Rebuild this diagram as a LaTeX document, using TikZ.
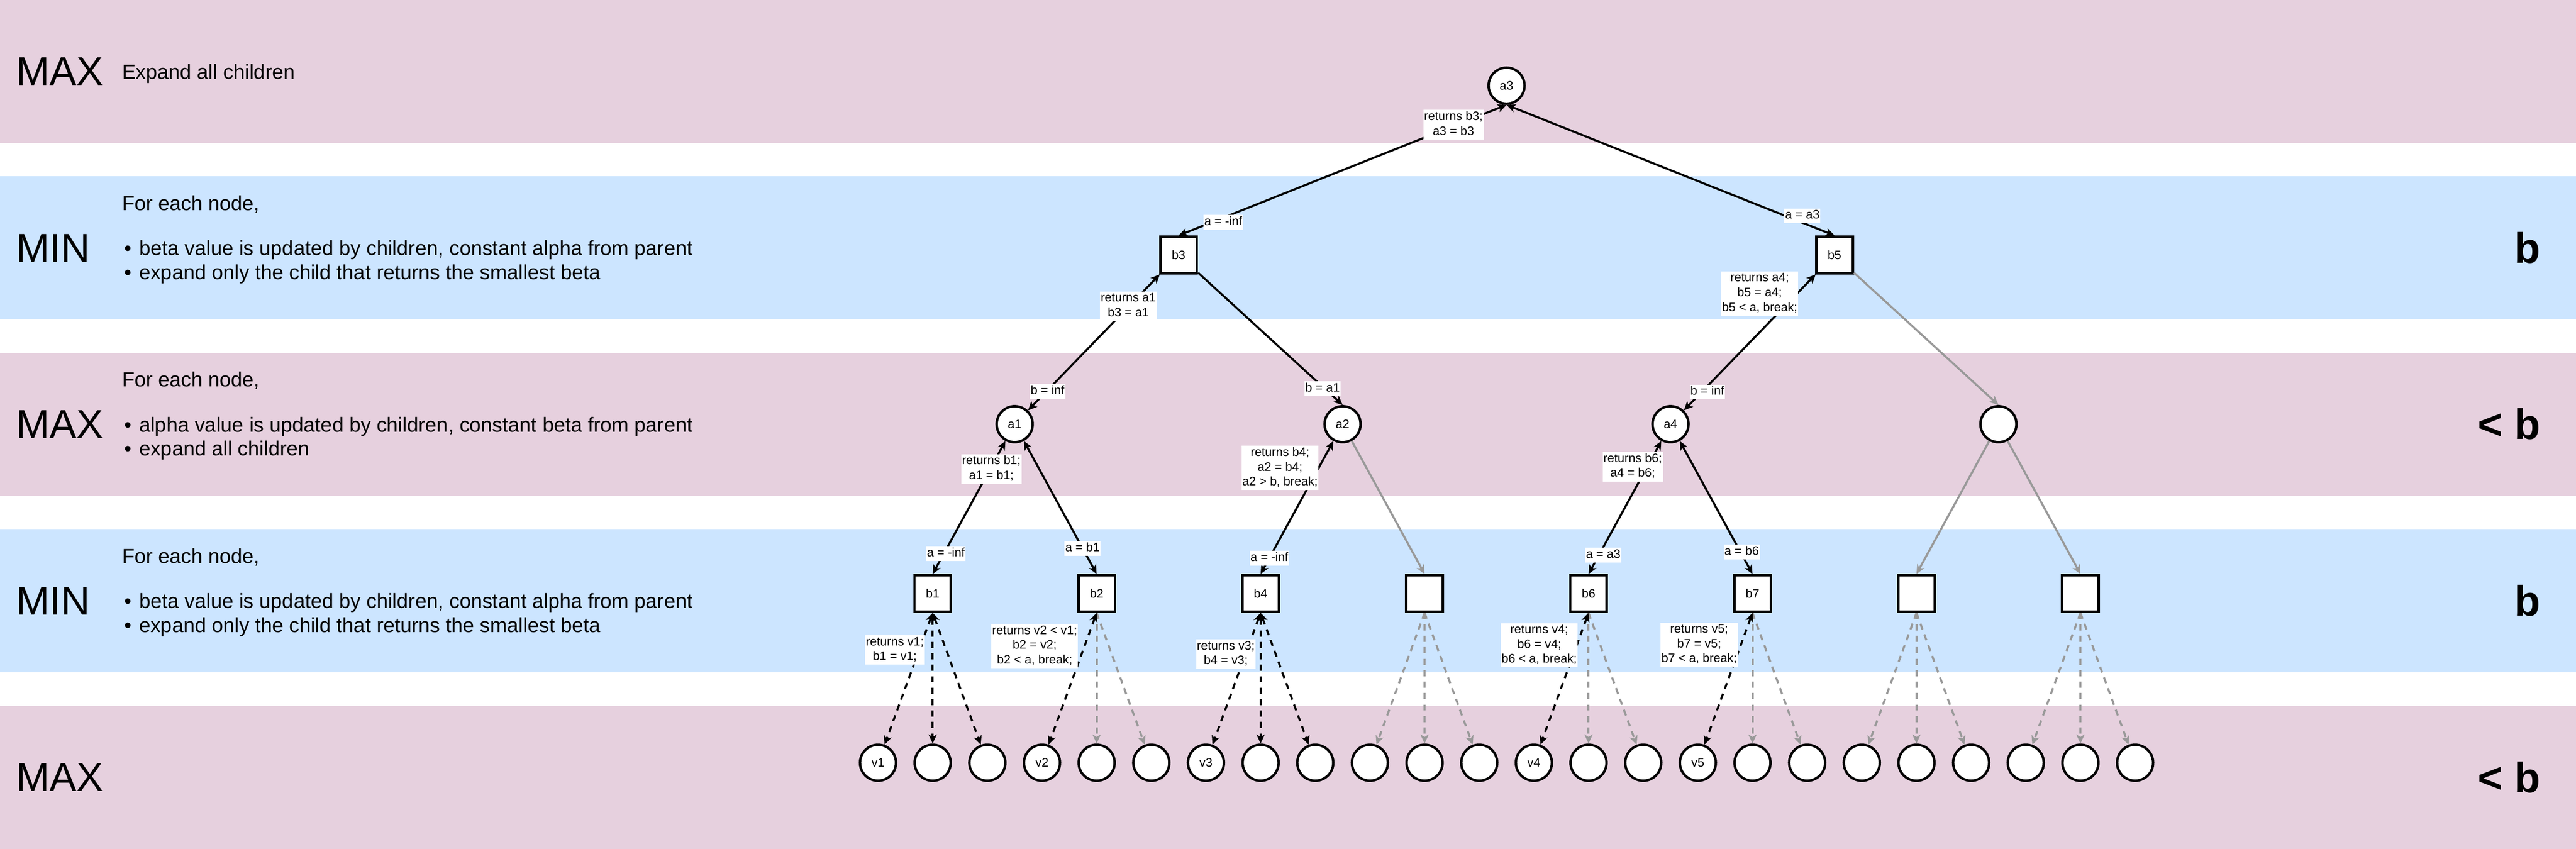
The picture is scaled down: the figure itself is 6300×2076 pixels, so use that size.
\documentclass[tikz,border=0pt]{standalone}
\usepackage{fontspec}
\setmainfont{Liberation Sans}
\usetikzlibrary{arrows.meta}
\definecolor{maxband}{HTML}{E6D0DE}
\definecolor{minband}{HTML}{CCE5FF}
\definecolor{prunegray}{HTML}{999999}
\tikzset{
  tip/.tip={Stealth[length=5.5pt,width=5pt,inset=1.5pt]},
  bandrect/.style={fill=#1, draw=none},
  maxnode/.style={circle, draw=black, fill=white, line width=1.5pt, minimum size=22pt, inner sep=0pt, font=\fontsize{7.5}{9}\selectfont},
  minnode/.style={rectangle, draw=black, fill=white, line width=1.5pt, minimum size=22.3pt, inner sep=0pt, font=\fontsize{7.5}{9}\selectfont},
  treeline/.style={line width=1.25pt, draw=black},
  twoway/.style={treeline, tip-tip},
  oneway/.style={treeline, -tip},
  pruned/.style={treeline, draw=prunegray, -tip},
  dashedge/.style={dash pattern=on 3.75pt off 3.25pt},
  elabel/.style={fill=white, inner xsep=0.5pt, inner ysep=0pt, align=center, font=\fontsize{7.5}{9}\selectfont},
  sidelabel/.style={anchor=west, inner sep=0pt, font=\fontsize{24.6}{29}\selectfont},
  rulelabel/.style={anchor=east, inner sep=0pt, font=\bfseries\fontsize{26}{30}\selectfont},
  desc/.style={anchor=base west, inner sep=0pt, font=\fontsize{12.5}{15}\selectfont},
}
\begin{document}
\begin{tikzpicture}[x=0.25pt, y=-0.25pt]
\useasboundingbox (0,0) rectangle (6300,2076);
% bands
\fill[bandrect=maxband] (0,0) rectangle (6300,350);
\fill[bandrect=minband] (0,431.5) rectangle (6300,781.5);
\fill[bandrect=maxband] (0,863) rectangle (6300,1213);
\fill[bandrect=minband] (0,1294.5) rectangle (6300,1644.5);
\fill[bandrect=maxband] (0,1726) rectangle (6300,2076);

% left labels
\node[sidelabel] (s1) at (39,175) {MAX};
\node[sidelabel] (s2) at (39,606.5) {MIN};
\node[sidelabel] (s3) at (39,1038) {MAX};
\node[sidelabel] (s4) at (39,1469.5) {MIN};
\node[sidelabel] (s5) at (39,1901) {MAX};

% descriptions
\node[desc] (d1) at (298,194) {Expand all children};
\node[desc] (d2a) at (298,514.5) {For each node,};
\node[desc] (d2b) at (303,624.5) {•};
\node[desc] (d2c) at (339.5,624.5) {beta value is updated by children, constant alpha from parent};
\node[desc] (d2d) at (303,683.5) {•};
\node[desc] (d2e) at (339.5,683.5) {expand only the child that returns the smallest beta};
\node[desc] (d3a) at (298,946) {For each node,};
\node[desc] (d3b) at (303,1056) {•};
\node[desc] (d3c) at (339.5,1056) {alpha value is updated by children, constant beta from parent};
\node[desc] (d3d) at (303,1115) {•};
\node[desc] (d3e) at (339.5,1115) {expand all children};
\node[desc] (d4a) at (298,1377.5) {For each node,};
\node[desc] (d4b) at (303,1487.5) {•};
\node[desc] (d4c) at (339.5,1487.5) {beta value is updated by children, constant alpha from parent};
\node[desc] (d4d) at (303,1546.5) {•};
\node[desc] (d4e) at (339.5,1546.5) {expand only the child that returns the smallest beta};

% right labels
\node[rulelabel] (r2) at (6214,605.5) {b};
\node[rulelabel] (r3) at (6214,1037.5) {< b};
\node[rulelabel] (r4) at (6214,1469.5) {b};
\node[rulelabel] (r5) at (6214,1901) {< b};

% tree nodes
\node[maxnode] (a3) at (3684.5,209.5) {a3};
\node[minnode] (b3) at (2882.5,623.5) {b3};
\node[minnode] (b5) at (4486.5,623.5) {b5};
\node[maxnode] (a1) at (2481.5,1037.5) {a1};
\node[maxnode] (a2) at (3283.5,1037.5) {a2};
\node[maxnode] (a4) at (4085.5,1037.5) {a4};
\node[maxnode] (a5) at (4887.5,1037.5) {};
\node[minnode] (b1) at (2281,1451.5) {b1};
\node[minnode] (b2) at (2682,1451.5) {b2};
\node[minnode] (b4) at (3083,1451.5) {b4};
\node[minnode] (bx1) at (3484,1451.5) {};
\node[minnode] (b6) at (3885,1451.5) {b6};
\node[minnode] (b7) at (4286,1451.5) {b7};
\node[minnode] (bx2) at (4687,1451.5) {};
\node[minnode] (bx3) at (5088,1451.5) {};

% leaves
\foreach \p/\x/\lab in {b1/2281/v1, b2/2682/v2, b4/3083/v3, bx1/3484/{}, b6/3885/v4, b7/4286/v5, bx2/4687/{}, bx3/5088/{}}{
  \node[maxnode] (\p-l) at (\x-133.7,1865.5) {\lab};
  \node[maxnode] (\p-m) at (\x,1865.5) {};
  \node[maxnode] (\p-r) at (\x+133.7,1865.5) {};
}

% pruned (gray) edges
\draw[pruned] (b5) -- (a5.north);
\draw[pruned] (a2) -- (bx1.north);
\draw[pruned] (a5) -- (bx2.north);
\draw[pruned] (a5) -- (bx3.north);
\foreach \p in {bx1,bx2,bx3}{
  \draw[pruned,dashedge] (\p.south) -- (\p-l);
  \draw[pruned,dashedge] (\p.south) -- (\p-m);
  \draw[pruned,dashedge] (\p.south) -- (\p-r);
}
\foreach \p in {b2,b6,b7}{
  \draw[pruned,dashedge] (\p.south) -- (\p-m);
  \draw[pruned,dashedge] (\p.south) -- (\p-r);
}

% explored edges
\draw[twoway] (a3.south) -- (b3.north);
\draw[twoway] (a3.south) -- (b5.north);
\draw[twoway] (b3) -- (a1);
\draw[oneway] (b3) -- (a2.north);
\draw[twoway] (b5) -- (a4);
\draw[twoway] (a1) -- (b1.north);
\draw[twoway] (a1) -- (b2.north);
\draw[twoway] (a2) -- (b4.north);
\draw[twoway] (a4) -- (b6.north);
\draw[twoway] (a4) -- (b7.north);
\foreach \p in {b1,b4}{
  \draw[twoway,dashedge] (\p.south) -- (\p-l);
  \draw[twoway,dashedge] (\p.south) -- (\p-m);
  \draw[twoway,dashedge] (\p.south) -- (\p-r);
}
\foreach \p in {b2,b6,b7}{
  \draw[twoway,dashedge] (\p.south) -- (\p-l);
}

% edge labels
\node[elabel] (e1) at (3554.5,305) {\strut returns b3;\\\strut a3 = b3};
\node[elabel] (e2) at (2991.5,544) {\strut a = -inf};
\node[elabel] (e3) at (4408,528) {\strut a = a3};
\node[elabel] (e4) at (2759.5,749) {\strut returns a1\\\strut b3 = a1};
\node[elabel] (e5) at (4303.5,718) {\strut returns a4;\\\strut b5 = a4;\\\strut b5 < a, break;};
\node[elabel] (e6) at (2562,957) {\strut b = inf};
\node[elabel] (e7) at (3234.5,950.5) {\strut b = a1};
\node[elabel] (e8) at (4175.5,959) {\strut b = inf};
\node[elabel] (e9) at (2424.5,1147) {\strut returns b1;\\\strut a1 = b1;};
\node[elabel] (e10) at (3130.5,1144.5) {\strut returns b4;\\\strut a2 = b4;\\\strut a2 > b, break;};
\node[elabel] (e11) at (3993,1141.5) {\strut returns b6;\\\strut a4 = b6;};
\node[elabel] (e12) at (2313.5,1354) {\strut a = -inf};
\node[elabel] (e13) at (2647.5,1341) {\strut a = b1};
\node[elabel] (e14) at (3104.5,1365) {\strut a = -inf};
\node[elabel] (e15) at (3921,1357.5) {\strut a = a3};
\node[elabel] (e16) at (4259.5,1350) {\strut a = b6};
\node[elabel] (e17) at (2188.5,1590) {\strut returns v1;\\\strut b1 = v1;};
\node[elabel] (e18) at (2530.5,1580) {\strut returns v2 < v1;\\\strut b2 = v2;\\\strut b2 < a, break;};
\node[elabel] (e19) at (2998,1600) {\strut returns v3;\\\strut b4 = v3;};
\node[elabel] (e20) at (3764.5,1578) {\strut returns v4;\\\strut b6 = v4;\\\strut b6 < a, break;};
\node[elabel] (e21) at (4155.5,1577) {\strut returns v5;\\\strut b7 = v5;\\\strut b7 < a, break;};
\end{tikzpicture}
\end{document}
